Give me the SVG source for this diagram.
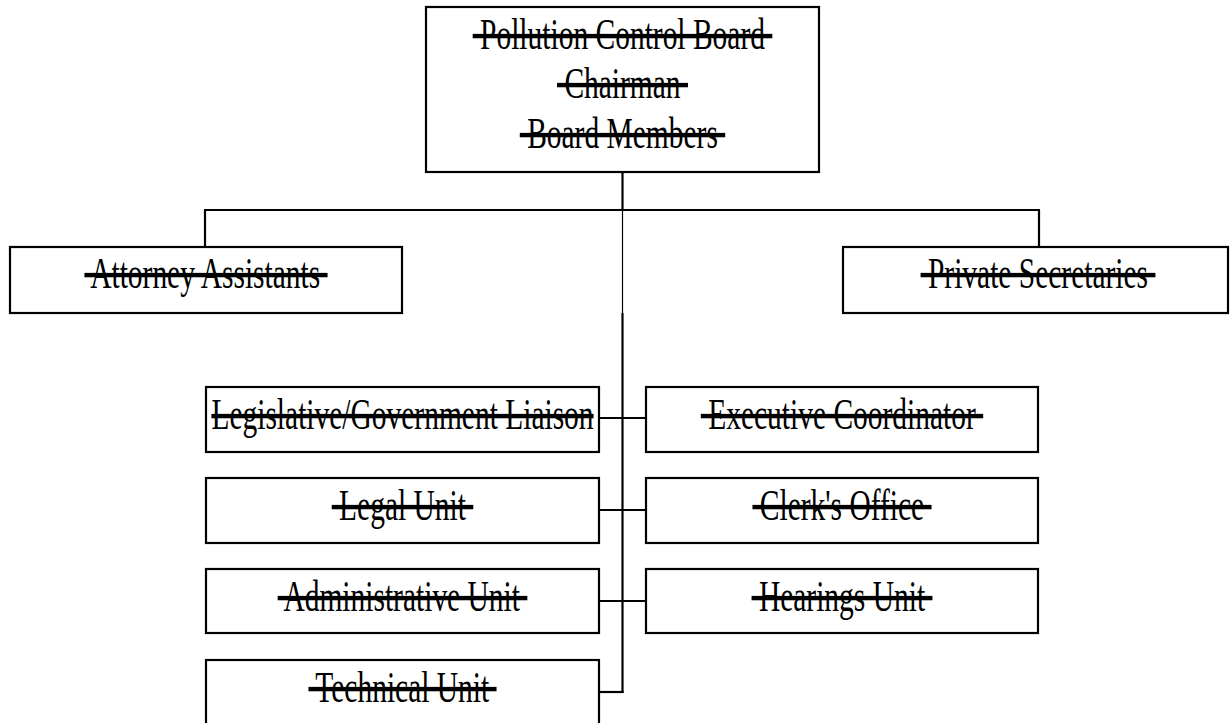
<svg xmlns="http://www.w3.org/2000/svg" width="1230" height="723" viewBox="0 0 1230 723">
<style>
.box{fill:#fff;stroke:#000;stroke-width:2.2}
.lbl{font-family:"Liberation Serif","Times New Roman",serif;font-size:44px;fill:#000;text-anchor:middle;text-decoration:line-through;text-decoration-thickness:2px;white-space:pre}
.conn{stroke:#000;stroke-width:2.2;fill:none}
.thin{stroke:#000;stroke-width:1.2;fill:none}
</style>
<rect width="1230" height="723" fill="#fff"/>
<g id="connectors">
<line class="conn" x1="622.5" y1="172" x2="622.5" y2="210"/>
<line class="conn" x1="204" y1="210" x2="1040" y2="210"/>
<line class="conn" x1="205" y1="210" x2="205" y2="247"/>
<line class="conn" x1="1039" y1="210" x2="1039" y2="247"/>
<line class="thin" x1="622.5" y1="210" x2="622.5" y2="313"/>
<line class="conn" x1="622.5" y1="313" x2="622.5" y2="693"/>
<line class="conn" x1="599" y1="418" x2="646" y2="418"/>
<line class="conn" x1="599" y1="510" x2="646" y2="510"/>
<line class="conn" x1="599" y1="601" x2="646" y2="601"/>
<line class="conn" x1="599" y1="692" x2="623.6" y2="692"/>
</g>
<g id="board">
<rect class="box" x="426" y="7" width="393" height="165"/>
<text class="lbl" transform="translate(622.5,49) scale(0.67,1)"> Pollution Control Board </text>
<text class="lbl" transform="translate(622.5,98) scale(0.67,1)"> Chairman </text>
<text class="lbl" transform="translate(622.5,148) scale(0.67,1)"> Board Members </text>
</g>
<g id="attorney">
<rect class="box" x="10" y="247" width="392" height="66"/>
<text class="lbl" transform="translate(206,288) scale(0.67,1)"> Attorney Assistants </text>
</g>
<g id="secretaries">
<rect class="box" x="843" y="247" width="385" height="66"/>
<text class="lbl" transform="translate(1038,288) scale(0.67,1)"> Private Secretaries </text>
</g>
<g id="liaison">
<rect class="box" x="206" y="387" width="393" height="65"/>
<text class="lbl" transform="translate(402.5,429) scale(0.67,1)">Legislative/Government Liaison</text>
</g>
<g id="executive">
<rect class="box" x="646" y="387" width="392" height="65"/>
<text class="lbl" transform="translate(842,429) scale(0.67,1)"> Executive Coordinator </text>
</g>
<g id="legal">
<rect class="box" x="206" y="478" width="393" height="65"/>
<text class="lbl" transform="translate(402.5,520) scale(0.67,1)"> Legal Unit </text>
</g>
<g id="clerk">
<rect class="box" x="646" y="478" width="392" height="65"/>
<text class="lbl" transform="translate(842,520) scale(0.67,1)"> Clerk's Office </text>
</g>
<g id="admin">
<rect class="box" x="206" y="569" width="393" height="64"/>
<text class="lbl" transform="translate(402.5,611) scale(0.67,1)"> Administrative Unit </text>
</g>
<g id="hearings">
<rect class="box" x="646" y="569" width="392" height="64"/>
<text class="lbl" transform="translate(842,611) scale(0.67,1)"> Hearings Unit </text>
</g>
<g id="technical">
<rect class="box" x="206" y="660" width="393" height="80"/>
<text class="lbl" transform="translate(402.5,702) scale(0.67,1)"> Technical Unit </text>
</g>
</svg>
